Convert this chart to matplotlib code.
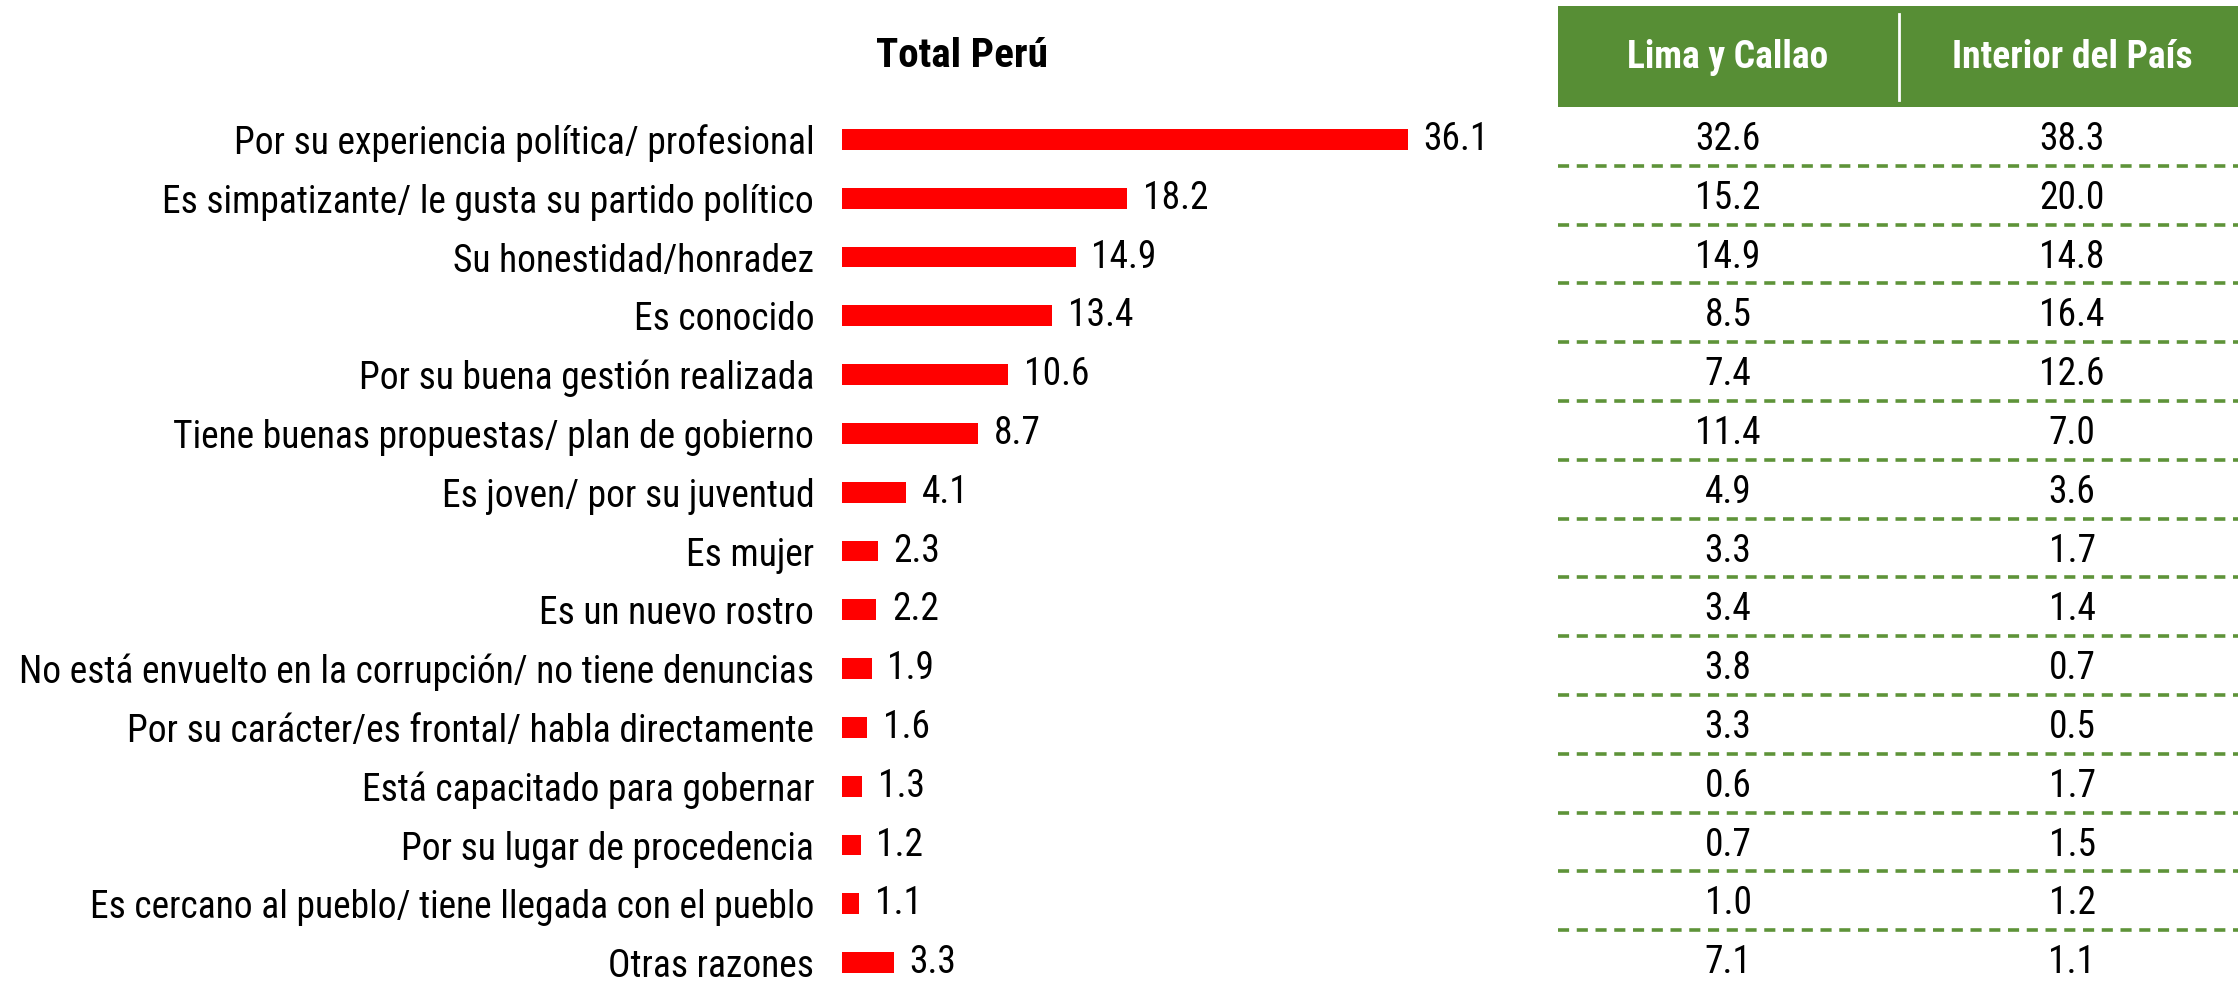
import matplotlib
matplotlib.use("Agg")
import matplotlib.pyplot as plt
from matplotlib import font_manager as fm
from matplotlib.patches import Rectangle

# Datos
razones = [
    'Por su experiencia política/ profesional',
    'Es simpatizante/ le gusta su partido político',
    'Su honestidad/honradez',
    'Es conocido',
    'Por su buena gestión realizada',
    'Tiene buenas propuestas/ plan de gobierno',
    'Es joven/ por su juventud',
    'Es mujer',
    'Es un nuevo rostro',
    'No está envuelto en la corrupción/ no tiene denuncias',
    'Por su carácter/es frontal/ habla directamente',
    'Está capacitado para gobernar',
    'Por su lugar de procedencia',
    'Es cercano al pueblo/ tiene llegada con el pueblo',
    'Otras razones',
]
total_peru = [36.1, 18.2, 14.9, 13.4, 10.6, 8.7, 4.1, 2.3, 2.2, 1.9, 1.6, 1.3, 1.2, 1.1, 3.3]
lima_callao = [32.6, 15.2, 14.9, 8.5, 7.4, 11.4, 4.9, 3.3, 3.4, 3.8, 3.3, 0.6, 0.7, 1.0, 7.1]
interior = [38.3, 20.0, 14.8, 16.4, 12.6, 7.0, 3.6, 1.7, 1.4, 0.7, 0.5, 1.7, 1.5, 1.2, 1.1]
columnas = ['Lima y Callao', 'Interior del País']
titulo = 'Total Perú'

W, H = 2238, 988
verde = '#578E35'
rojo = '#FF0000'

# Fuente angosta si existe, si no Liberation Sans (metrica Arial)
nombres = {f.name for f in fm.fontManager.ttflist}
fuente = 'Liberation Sans'
for cand in ['Liberation Sans Narrow', 'Arial Narrow', 'Roboto Condensed',
             'Open Sans Condensed', 'Noto Sans Condensed']:
    if cand in nombres:
        fuente = cand
        break
plt.rcParams['font.family'] = [fuente, 'DejaVu Sans']
plt.rcParams['lines.scale_dashes'] = False

fig = plt.figure(figsize=(W / 100, H / 100), dpi=100)
renderer = fig.canvas.get_renderer()


def ajustar(texto, ancho_px, size0, weight='normal'):
    # tamaño de letra para que el texto ocupe ancho_px
    t = fig.text(0, 0, texto, fontsize=size0, fontweight=weight)
    w = t.get_window_extent(renderer).width
    t.remove()
    return size0 * ancho_px / w


fs_lab = min(27, ajustar(razones[9], 805, 27))
fs_num = 27
fs_tit = min(32, ajustar(titulo, 172, 32, 'bold'))
fs_head = min(28, ajustar(columnas[1], 241, 28, 'bold'))

row0, paso = 139.5, 58.8
n = len(razones)
y_top_px = 110.0
ylim_bot = -0.5 + (H - y_top_px) / paso


def fy(px):
    return 1 - px / H


# Barras Total Perú
x0_px, px_unit = 842, 15.68
ax = fig.add_axes([x0_px / W, 0, 40 * px_unit / W, fy(y_top_px)])
y = list(range(n))
ax.barh(y, total_peru, height=0.357, color=rojo)
ax.set_xlim(0, 40)
ax.set_ylim(ylim_bot, -0.5)
ax.set_yticks(y)
ax.set_yticklabels(razones, fontsize=fs_lab)
ax.tick_params(axis='y', length=0, pad=20)
ax.set_xticks([])
for s in ax.spines.values():
    s.set_visible(False)
for i, v in enumerate(total_peru):
    ax.text(v + 1.0, i, f'{v:.1f}', va='center', ha='left', fontsize=fs_num)

fig.text(962 / W, fy(56), titulo, ha='center', va='center',
         fontsize=fs_tit, fontweight='bold')

# Tabla
tx0, tx1 = 1558, W
axt = fig.add_axes([tx0 / W, 0, (tx1 - tx0) / W, fy(y_top_px)])
axt.set_xlim(tx0, tx1)
axt.set_ylim(ylim_bot, -0.5)
axt.axis('off')
centros = [1728, 2072]
for i in range(n):
    axt.text(centros[0], i, f'{lima_callao[i]:.1f}', ha='center', va='center', fontsize=fs_num)
    axt.text(centros[1], i, f'{interior[i]:.1f}', ha='center', va='center', fontsize=fs_num)
    if i < n - 1:
        axt.plot([tx0, tx1], [i + 0.45, i + 0.45], color='#5E9339', lw=2.6,
                 dashes=(8, 5.5), dash_capstyle='butt')

# Encabezado
fig.patches.append(Rectangle((tx0 / W, fy(107)), (tx1 - tx0) / W, (107 - 6) / H,
                             transform=fig.transFigure, facecolor=verde,
                             edgecolor='none'))
fig.lines.append(plt.Line2D([1899 / W, 1899 / W], [fy(14), fy(100)],
                            transform=fig.transFigure, color='white', lw=2))
for c, t in zip(centros, columnas):
    fig.text(c / W, fy(57), t, ha='center', va='center', color='white',
             fontsize=fs_head, fontweight='bold')

fig.savefig('out.png', dpi=100)
